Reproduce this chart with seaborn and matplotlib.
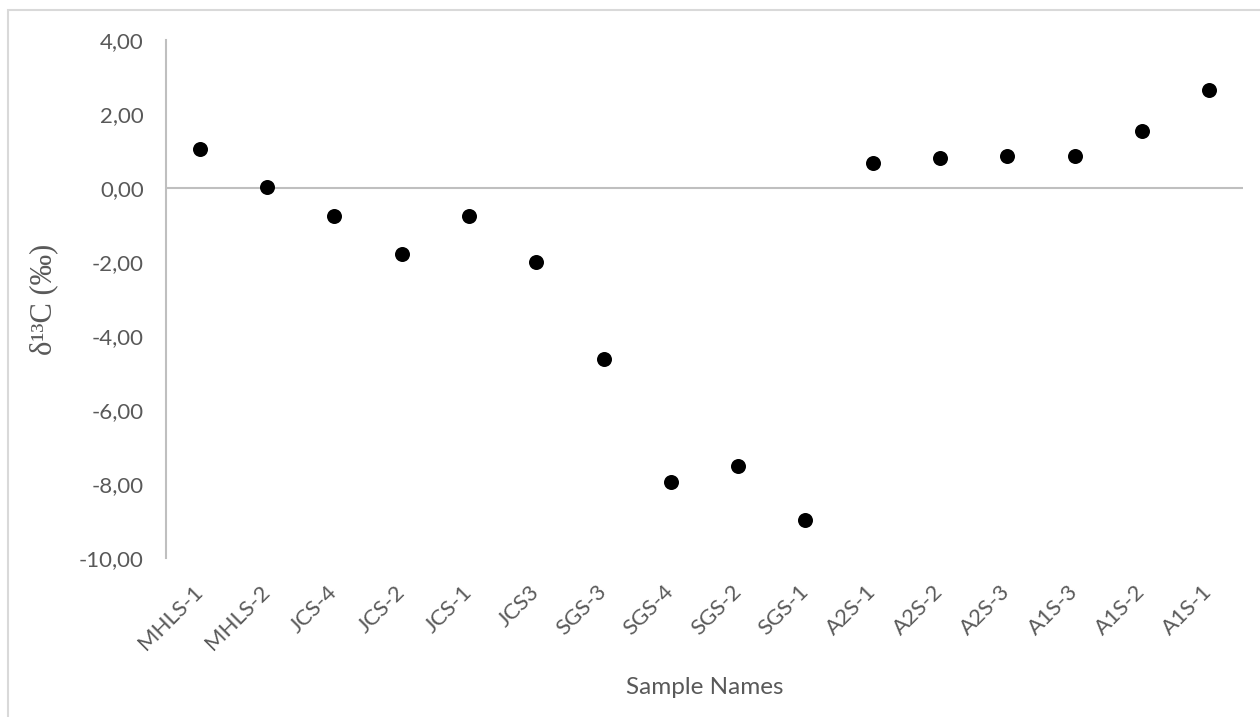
import matplotlib
matplotlib.use("Agg")
import matplotlib.pyplot as plt
import matplotlib.patches as mpatches
from matplotlib.ticker import FixedLocator, FuncFormatter
import seaborn as sns
import pandas as pd

samples = ["MHLS-1", "MHLS-2", "JCS-4", "JCS-2", "JCS-1", "JCS3", "SGS-3", "SGS-4",
           "SGS-2", "SGS-1", "A2S-1", "A2S-2", "A2S-3", "A1S-3", "A1S-2", "A1S-1"]
d13c = [1.05, 0.03, -0.76, -1.78, -0.75, -2.00, -4.63, -7.94,
        -7.51, -8.96, 0.69, 0.82, 0.86, 0.88, 1.54, 2.65]
y_ticks = [-10, -8, -6, -4, -2, 0, 2, 4]

df = pd.DataFrame({"Sample": samples, "d13C": d13c})

sns.set_theme(style="white")
plt.rcParams["font.family"] = ["Lato", "DejaVu Sans"]

W, H, DPI = 1260, 717, 100
fig = plt.figure(figsize=(W / DPI, H / DPI), dpi=DPI)
fig.patch.set_facecolor("white")

# axes box in pixel coordinates
left, right, top, bottom = 166, 1243, 40, 558.3
ax = fig.add_axes([left / W, 1 - bottom / H, (right - left) / W, (bottom - top) / H])

sns.stripplot(data=df, x="Sample", y="d13C", jitter=False, color="black",
              size=10.8, linewidth=0, ax=ax, zorder=3)

ax.set_ylim(-10, 4)
ax.set_xlim(-0.5, len(samples) - 0.5)

grey_line = "#bfbfbf"
text_col = "#595959"

# horizontal axis line crossing at zero
ax.axhline(0, color=grey_line, lw=1.5, zorder=1)

for s in ["top", "right", "bottom"]:
    ax.spines[s].set_visible(False)
ax.spines["left"].set_color(grey_line)
ax.spines["left"].set_linewidth(1.5)

ax.yaxis.set_major_locator(FixedLocator(y_ticks))
ax.yaxis.set_major_formatter(FuncFormatter(lambda v, p: f"{v:.2f}".replace(".", ",")))
ax.tick_params(axis="y", length=0, pad=16, labelsize=16, labelcolor=text_col)
ax.tick_params(axis="x", length=0, pad=22, labelsize=16, labelcolor=text_col)
for lab in ax.get_xticklabels():
    lab.set_rotation(45)
    lab.set_ha("right")
    lab.set_va("center")
    lab.set_rotation_mode("anchor")

ax.set_xlabel("Sample Names", fontsize=17.5, color=text_col)
ax.xaxis.set_label_coords(0.5, -(677 - bottom) / (bottom - top))
ax.set_ylabel("δ¹³C (‰)", fontsize=22, color=text_col, family=["Liberation Serif"])
ax.yaxis.set_label_coords(-(left - 58) / (right - left), 0.5)

# chart area outline
fig.patches.append(mpatches.Rectangle((8 / W, -0.1), 1.2, 1 - 10 / H + 0.1,
                                      transform=fig.transFigure, fill=False,
                                      edgecolor="#d9d9d9", lw=1.5))

fig.savefig("out.png", dpi=DPI, facecolor="white")
